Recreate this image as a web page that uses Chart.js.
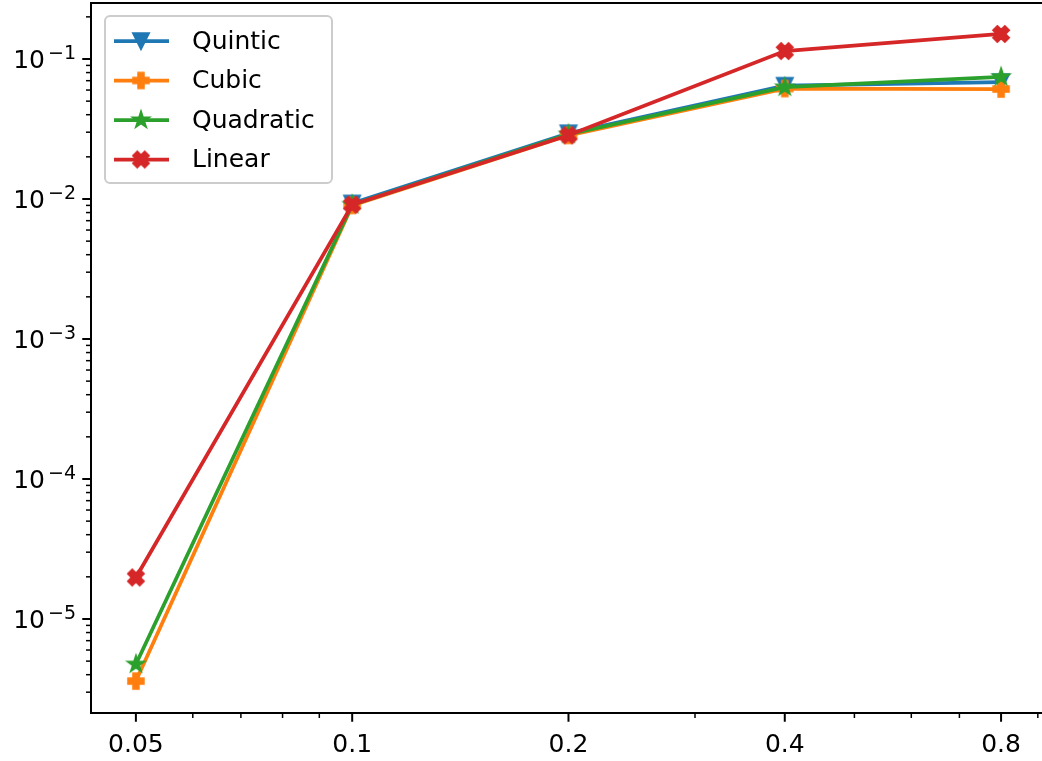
<!DOCTYPE html>
<html>
<head>
<meta charset="utf-8">
<script src="https://cdn.jsdelivr.net/npm/chart.js@4.4.1/dist/chart.umd.min.js"></script>
<style>
  html, body { margin: 0; padding: 0; background: #fff; overflow: hidden; }
</style>
</head>
<body>
<canvas id="errCanvas" width="1046" height="761"></canvas>
<script>
/* ── data (no Quintic point is visible at 0.05) ── */
const xValues   = [0.05, 0.1, 0.2, 0.4, 0.8];
const quintic   = [null, 9.3e-3, 2.95e-2, 6.45e-2, 6.85e-2];
const cubic     = [3.6e-6, 9.0e-3, 2.85e-2, 6.15e-2, 6.1e-2];
const quadratic = [4.75e-6, 9.1e-3, 2.9e-2, 6.3e-2, 7.45e-2];
const linear    = [1.98e-5, 9.1e-3, 2.85e-2, 1.14e-1, 1.51e-1];
const seriesNames = ['Quintic', 'Cubic', 'Quadratic', 'Linear'];

const xMajorTicks  = [0.05, 0.1, 0.2, 0.4, 0.8];
const xMajorLabels = ['0.05', '0.1', '0.2', '0.4', '0.8'];
const xMinorTicks  = [0.06, 0.07, 0.08, 0.09, 0.3, 0.5, 0.6, 0.7, 0.9];
const yMajorTicks  = [1e-5, 1e-4, 1e-3, 1e-2, 1e-1];
const yExponents   = ['−5', '−4', '−3', '−2', '−1'];
const yMinorSteps  = [2, 3, 4, 5, 6, 7, 8, 9];

const X_MIN = 0.0433, X_MAX = 0.918;
const Y_MIN = 2.13e-6, Y_MAX = 0.2512;

const yMinorTicks = [];
[1e-6, 1e-5, 1e-4, 1e-3, 1e-2, 1e-1].forEach(d => {
    yMinorSteps.forEach(m => {
        const v = m * d;
        if (v > Y_MIN && v < Y_MAX) yMinorTicks.push(v);
    });
});

/* ── marker glyphs (matplotlib v, P, *, X) ── */
function makeMarker(color, pts, s) {
    const c = document.createElement('canvas');
    c.width = 24; c.height = 24;
    const g = c.getContext('2d');
    g.translate(12, 12);
    g.beginPath();
    pts.forEach(([x, y], i) => i ? g.lineTo(x * s, y * s) : g.moveTo(x * s, y * s));
    g.closePath();
    g.fillStyle = color; g.strokeStyle = color;
    g.lineWidth = 2.5; g.lineJoin = 'miter';
    g.fill(); g.stroke();
    return c;
}
const starPts = [];
for (let i = 0; i < 10; i++) {
    const r = i % 2 ? 0.381966 : 1;
    const a = -Math.PI / 2 + i * Math.PI / 5;
    starPts.push([r * Math.cos(a), r * Math.sin(a)]);
}
const colors = ['#1f77b4', '#ff7f0e', '#2ca02c', '#d62728'];
const markers = [
    makeMarker(colors[0], [[0, 1], [-1, -1], [1, -1]], 7.5),
    makeMarker(colors[1], [[-1,-3],[-1,-1],[-3,-1],[-3,1],[-1,1],[-1,3],[1,3],[1,1],[3,1],[3,-1],[1,-1],[1,-3]], 2.5),
    makeMarker(colors[2], starPts, 7.5),
    makeMarker(colors[3], [[-1,-2],[0,-1],[1,-2],[2,-1],[1,0],[2,1],[1,2],[0,1],[-1,2],[-2,1],[-1,0],[-2,-1]], 3.75),
];

const allSeries = [quintic, cubic, quadratic, linear];

/* ── ticks, spines, y labels and legend drawn over the plot ── */
const decor = {
    id: 'decor',
    afterDraw(chart) {
        const ctx = chart.ctx;
        const a = chart.chartArea;
        const sx = chart.scales.x, sy = chart.scales.y;
        ctx.save();
        ctx.strokeStyle = '#000';
        ctx.lineCap = 'butt';

        xMinorTicks.concat(xMajorTicks).forEach(v => {
            const major = xMajorTicks.includes(v);
            const px = sx.getPixelForValue(v);
            ctx.lineWidth = major ? 2 : 1.5;
            ctx.beginPath();
            ctx.moveTo(px, a.bottom);
            ctx.lineTo(px, a.bottom + (major ? 8.75 : 5));
            ctx.stroke();
        });
        yMinorTicks.concat(yMajorTicks).forEach(v => {
            const major = yMajorTicks.includes(v);
            const py = sy.getPixelForValue(v);
            ctx.lineWidth = major ? 2 : 1.5;
            ctx.beginPath();
            ctx.moveTo(a.left, py);
            ctx.lineTo(a.left - (major ? 8.75 : 5), py);
            ctx.stroke();
        });

        ctx.lineWidth = 2;
        ctx.strokeRect(a.left, a.top, a.right - a.left, a.bottom - a.top);

        // y tick labels: 10 with raised exponent
        ctx.fillStyle = '#000';
        ctx.textBaseline = 'alphabetic';
        ctx.textAlign = 'left';
        yMajorTicks.forEach((v, i) => {
            const py = sy.getPixelForValue(v);
            ctx.font = '25px "DejaVu Sans"';
            const wBase = ctx.measureText('10').width;
            ctx.font = '19px "DejaVu Sans"';
            const wExp = ctx.measureText(yExponents[i]).width;
            const x0 = a.left - 15 - wBase - 3 - wExp;
            ctx.font = '25px "DejaVu Sans"';
            ctx.fillText('10', x0, py + 9);
            ctx.font = '19px "DejaVu Sans"';
            ctx.fillText(yExponents[i], x0 + wBase + 3, py);
        });

        // legend box
        const bx = a.left + 14, by = a.top + 13, bw = 227, bh = 167;
        ctx.beginPath();
        ctx.roundRect(bx, by, bw, bh, 5);
        ctx.fillStyle = 'rgba(255,255,255,0.8)';
        ctx.fill();
        ctx.strokeStyle = '#cccccc';
        ctx.lineWidth = 2;
        ctx.stroke();

        ctx.font = '25px "DejaVu Sans"';
        ctx.textBaseline = 'middle';
        ctx.textAlign = 'left';
        seriesNames.forEach((name, i) => {
            const ry = by + 25 + i * 39.5;
            ctx.strokeStyle = colors[i];
            ctx.lineWidth = 3.75;
            ctx.beginPath();
            ctx.moveTo(bx + 9, ry);
            ctx.lineTo(bx + 64, ry);
            ctx.stroke();
            ctx.drawImage(markers[i], bx + 36 - 12, ry - 12);
            ctx.fillStyle = '#000';
            ctx.fillText(name, bx + 87, ry + 1);
        });
        ctx.restore();
    }
};

new Chart(document.getElementById('errCanvas').getContext('2d'), {
    type: 'line',
    data: {
        datasets: allSeries.map((vals, i) => ({
            label: seriesNames[i],
            data: vals.map((v, j) => ({ x: xValues[j], y: v })),
            borderColor: colors[i],
            backgroundColor: colors[i],
            borderWidth: 3.75,
            tension: 0,
            fill: false,
            spanGaps: false,
            pointStyle: markers[i],
            pointRadius: 8,
            order: 4 - i,
        })),
    },
    options: {
        responsive: false,
        animation: false,
        events: [],
        layout: { autoPadding: false, padding: { top: 3, right: 2, left: 0, bottom: 0 } },
        scales: {
            x: {
                type: 'logarithmic',
                min: X_MIN, max: X_MAX,
                grid: { display: false, drawTicks: false },
                border: { display: false },
                afterBuildTicks: s => { s.ticks = xMajorTicks.map(v => ({ value: v })); },
                afterFit: s => {
                    s.height = 48;
                    s.paddingLeft = 0; s.paddingRight = 0;
                    s.paddingTop = 0; s.paddingBottom = 0;
                },
                ticks: {
                    autoSkip: false, maxRotation: 0,
                    padding: 17,
                    color: '#000',
                    font: { family: 'DejaVu Sans', size: 25 },
                    callback: v => xMajorLabels[xMajorTicks.indexOf(v)] ?? '',
                },
            },
            y: {
                type: 'logarithmic',
                min: Y_MIN, max: Y_MAX,
                grid: { display: false, drawTicks: false },
                border: { display: false },
                afterBuildTicks: s => { s.ticks = yMajorTicks.map(v => ({ value: v })); },
                afterFit: s => {
                    s.width = 91;
                    s.paddingLeft = 0; s.paddingRight = 0;
                    s.paddingTop = 0; s.paddingBottom = 0;
                },
                ticks: { display: false },
            },
        },
        plugins: {
            legend:  { display: false },
            tooltip: { enabled: false },
        },
    },
    plugins: [decor],
});
</script>
</body>
</html>
